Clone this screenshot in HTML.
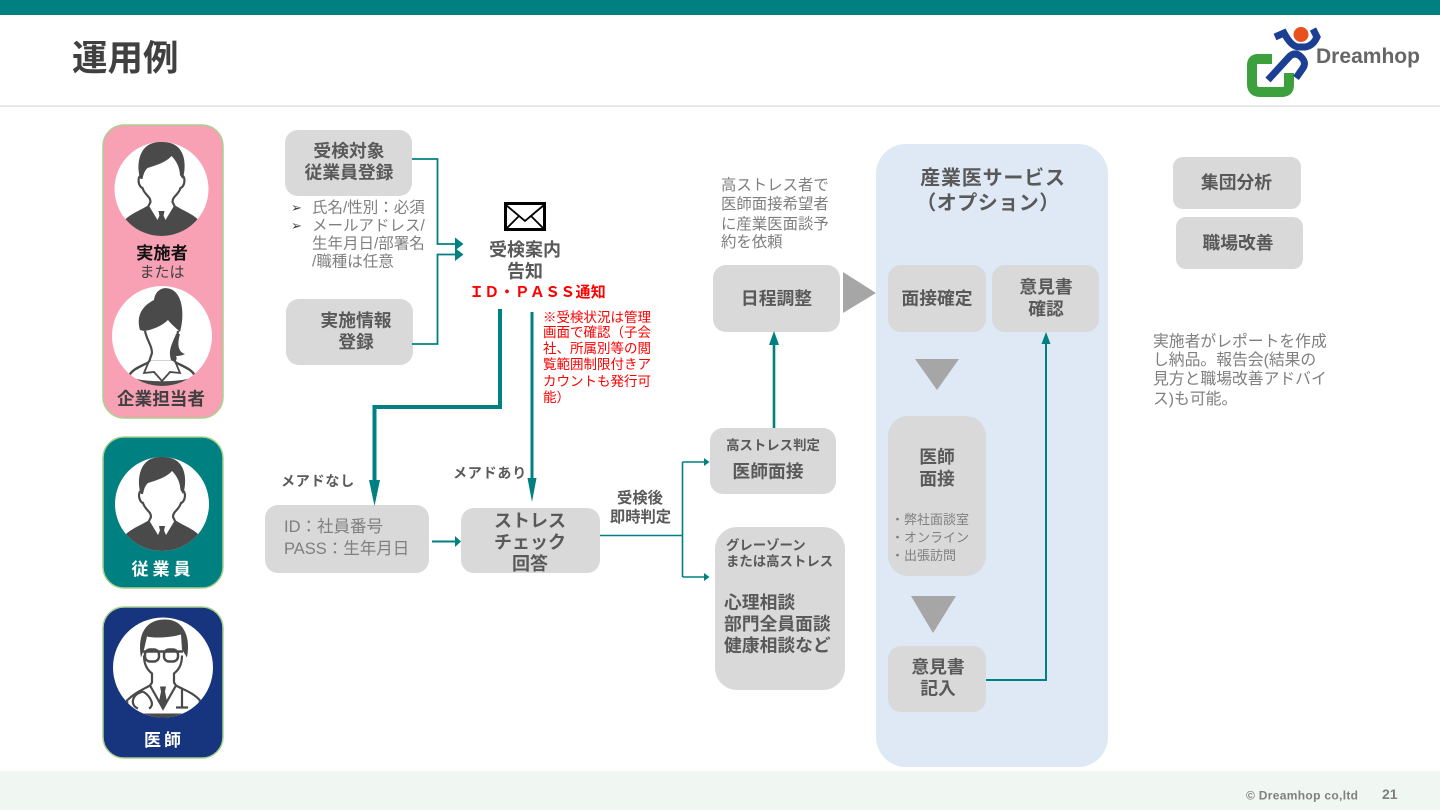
<!DOCTYPE html>
<html lang="ja">
<head>
<meta charset="utf-8">
<title>運用例</title>
<style>
html,body{margin:0;padding:0;background:#fff;width:1440px;height:810px;overflow:hidden}
svg{display:block}
text{font-family:"Liberation Sans","Noto Sans CJK JP",sans-serif}
.b{font-weight:700;fill:#595959;font-size:17.8px;text-anchor:middle}
.r{font-weight:400;fill:#7f7f7f;font-size:15.5px}
.box{fill:#d9d9d9}
.t{stroke:#008080;fill:none}
.a{fill:#008080}
.g{fill:#a6a6a6}
</style>
</head>
<body>
<svg width="1440" height="810" viewBox="0 0 1440 810" xmlns="http://www.w3.org/2000/svg">
<defs>
<clipPath id="c47"><circle cx="0" cy="0" r="47"/></clipPath>
<clipPath id="c50"><circle cx="0" cy="0" r="50"/></clipPath>
<g id="man">
<circle r="47" fill="#fff"/>
<g clip-path="url(#c47)">
<path d="M-37,31 C-30,24 -20,21 -13,16 L13,16 C20,21 30,24 37,31 L44,60 L-44,60 Z" fill="#4a4a4a"/>
<path d="M-13,16 L-4,31 L0,22 L4,31 L13,16 L11,12 L-11,12 Z" fill="#fff"/>
<path d="M-3,22 L3,22 L2,27 L4,38 L0,47 L-4,38 L-2,27 Z" fill="#4a4a4a"/>
</g>
<path d="M-20,-14 C-25,-12 -23,-2 -19,-1 C-17,6 -11,7 -11,13 L-13,17 M20,-14 C25,-12 23,-2 19,-1 C17,6 11,7 11,13 L13,17" fill="none" stroke="#4a4a4a" stroke-width="2.200"/>
<path d="M-21,-10 C-24,-18 -24,-30 -19,-38 C-14,-46 -6,-47 0,-47 C8,-47 16,-45 20,-37 C24,-30 24,-18 21,-10 L18.500,-14 C18,-22 15,-28 10,-33 C4,-26 -8,-23 -14,-21 C-17,-18 -18,-15 -19,-10 Z" fill="#4a4a4a"/>
</g>
</defs>

<rect width="1440" height="810" fill="#fff"/>
<rect width="1440" height="15" fill="#008080"/>
<rect y="105.500" width="1440" height="1.200" fill="#d9d9d9"/>
<rect y="771" width="1440" height="39" fill="#f0f6f1"/>
<text x="72" y="70" font-size="35.500" font-weight="700" fill="#404040">運用例</text>

<!-- logo -->
<path d="M1272,59 H1258 Q1252,59 1252,65 V84 Q1252,92 1260,92 H1282 Q1289,92 1289,85 V73" fill="none" stroke="#3ca03c" stroke-width="10"/>
<circle cx="1301" cy="34.500" r="7.500" fill="#e8501e"/>
<path d="M1275,37 L1284,33 Q1291,46 1298,47 L1305,47 Q1313,46 1317,37 L1313,29" fill="none" stroke="#1d3f93" stroke-width="7"/>
<path d="M1268,80 L1290,56 Q1295,52 1300,56 Q1307,62 1303,68 L1296,78" fill="none" stroke="#1d3f93" stroke-width="7"/>
<text x="1316" y="63" font-size="21" font-weight="700" fill="#666" textLength="104" lengthAdjust="spacingAndGlyphs">Dreamhop</text>

<!-- role cards -->
<rect x="103" y="125" width="120" height="293" rx="21" fill="#f8a0b4" stroke="#a9d18e" stroke-width="1.500"/>
<rect x="103" y="437" width="120" height="151" rx="21" fill="#008080" stroke="#a9d18e" stroke-width="1.500"/>
<rect x="103" y="607" width="120" height="151" rx="21" fill="#17347f" stroke="#a9d18e" stroke-width="1.500"/>

<use href="#man" transform="translate(161.500,189)"/>
<text x="162" y="259" font-size="17.300" font-weight="700" fill="#111" text-anchor="middle">実施者</text>
<text x="162" y="277" font-size="15" fill="#404040" text-anchor="middle">または</text>

<!-- woman -->
<circle cx="162" cy="336" r="50" fill="#fff"/>
<g transform="translate(162,336)">
<g clip-path="url(#c50)">
<path d="M-33,40 C-30,33 -20,30 -13,26 L13,26 C20,30 30,33 33,40" fill="none" stroke="#4a4a4a" stroke-width="2.400"/>
<path d="M-13,25 L-18,37 L-8,36 L0,45 L8,36 L18,37 L13,25" fill="#fff" stroke="#4a4a4a" stroke-width="1.800"/>
<path d="M-33,40 L-36,52 L36,52 L33,40 C24,47 -24,47 -33,40 Z" fill="#4a4a4a"/>
</g>
<path d="M-17,-5 C-15,5 -10,9 -10,17 L-13,26 M16,-5 C15,5 10,9 10,17 L13,26" fill="none" stroke="#4a4a4a" stroke-width="2.200"/>
<path d="M-22,-6 C-26,-20 -20,-30 -8,-36 C-6,-50 8,-51 15,-42 C21,-34 22,-18 18,-4 C14,-8 9,-12 6,-16 C0,-10 -10,-6 -18,-5 Z" fill="#4a4a4a"/>
<path d="M14,-2 C10,8 6,14 9,24 C13,27 16,24 14,20 C18,20 21,19 23,18 C16,16 15,8 18,-2 Z" fill="#4a4a4a"/>
</g>
<text x="161" y="405" font-size="17.600" font-weight="700" fill="#404040" text-anchor="middle">企業担当者</text>

<use href="#man" transform="translate(162,504)"/>
<text x="163" y="575" font-size="17" font-weight="700" fill="#fff" text-anchor="middle" letter-spacing="4">従業員</text>

<!-- doctor -->
<circle cx="163" cy="667.500" r="50" fill="#fff"/>
<g transform="translate(163,667.500)">
<g clip-path="url(#c50)">
<path d="M-36,33 C-28,25 -20,22 -13,18 L0,41 L13,18 C20,22 30,25 37,33 L34,50 L-34,50 Z" fill="#fff" stroke="#4a4a4a" stroke-width="2.200"/>
<path d="M-3,19 L3,19 L2,24 L4,34 L0,43 L-4,34 L-2,24 Z" fill="#4a4a4a"/>
<path d="M-20,24 C-32,27 -33,38 -25,41 M-20,24 C-12,29 -8,38 -14,41 M19,20 L19,40 M13,40 L25,40" fill="none" stroke="#4a4a4a" stroke-width="2.200"/>
<rect x="-40" y="46" width="80" height="6" fill="#4a4a4a"/>
</g>
<path d="M-19,-12 C-19,-3 -16,2 -11,6 L-11,15 L-13,18 M19,-12 C19,-3 16,2 11,6 L11,15 L13,18" fill="none" stroke="#4a4a4a" stroke-width="2.200"/>
<path d="M-22,-10 C-26,-32 -18,-48 2,-48 C20,-48 28,-32 24,-10 L19,-18 L18,-33 C8,-30 -8,-29 -16,-31 L-19,-18 Z" fill="#4a4a4a"/>
<rect x="-18" y="-18" width="14" height="12" rx="5" fill="#fff" stroke="#4a4a4a" stroke-width="2.400"/>
<rect x="1" y="-18" width="14" height="12" rx="5" fill="#fff" stroke="#4a4a4a" stroke-width="2.400"/>
<path d="M-22,-16 L20,-16" stroke="#4a4a4a" stroke-width="2.400"/>
</g>
<text x="164" y="746" font-size="17" font-weight="700" fill="#fff" text-anchor="middle" letter-spacing="3">医師</text>

<!-- service panel -->
<rect x="876" y="144" width="232" height="623" rx="30" fill="#dee9f5"/>

<!-- boxes -->
<rect class="box" x="285" y="130" width="127" height="66" rx="13"/>
<rect class="box" x="286" y="299" width="127" height="66" rx="13"/>
<rect class="box" x="265" y="505" width="164" height="68" rx="13"/>
<rect class="box" x="461" y="508" width="139" height="65" rx="13"/>
<rect class="box" x="710" y="428" width="126" height="66" rx="13"/>
<rect class="box" x="715" y="527" width="130" height="163" rx="22"/>
<rect class="box" x="713" y="265" width="127" height="67" rx="13"/>
<rect class="box" x="888" y="265" width="98" height="67" rx="13"/>
<rect class="box" x="992" y="265" width="107" height="67" rx="13"/>
<rect class="box" x="888" y="416" width="98" height="160" rx="20"/>
<rect class="box" x="888" y="646" width="98" height="66" rx="13"/>
<rect class="box" x="1173" y="157" width="128" height="52" rx="10"/>
<rect class="box" x="1176" y="217" width="127" height="52" rx="10"/>

<!-- connectors -->
<path class="t" stroke-width="1.800" d="M412,159 H437.500 V244 H456"/>
<path class="a" d="M455,237.500 L463.500,244 L455,250.500 Z"/>
<path class="t" stroke-width="1.800" d="M412,344 H437.500 V254.500 H456"/>
<path class="a" d="M455,248 L463.500,254.500 L455,261 Z"/>
<path class="t" stroke-width="4" d="M500,309 V407 H374.500 V482"/>
<path class="a" d="M369,480 L380,480 L374.500,506 Z"/>
<path class="t" stroke-width="3" d="M532,312 V480"/>
<path class="a" d="M527.500,478 L536.500,478 L532,502 Z"/>
<path class="t" stroke-width="2" d="M432,541.500 H456"/>
<path class="a" d="M455,536 L461,541.500 L455,547 Z"/>
<path class="t" stroke-width="1.600" d="M600,535.500 H682.500 M682.500,462 V577 M682.500,462 H704 M682.500,577 H704"/>
<path class="a" d="M704,458 L709.500,462 L704,466 Z M704,573 L709.500,577 L704,581 Z"/>
<path class="t" stroke-width="2.600" d="M774,428 V343"/>
<path class="a" d="M769,345 L779,345 L774,331 Z"/>
<path class="t" stroke-width="2" d="M986,680 H1046 V342"/>
<path class="a" d="M1041.500,344 L1050.500,344 L1046,332 Z"/>

<!-- gray triangles -->
<path class="g" d="M843,272 L876,293 L843,313 Z"/>
<path class="g" d="M915,359 L959,359 L937,390 Z"/>
<path class="g" d="M911,596 L956,596 L933,633 Z"/>

<!-- envelope -->
<rect x="505.500" y="203.500" width="39" height="26" fill="#fff" stroke="#000" stroke-width="3"/>
<path d="M506,205 L525,221 L544,205 M506,229 L519,216 M544,229 L531,216" fill="none" stroke="#000" stroke-width="1.800"/>

<!-- labels -->
<text class="b" x="349" y="157">受検対象</text>
<text class="b" x="349" y="178.500">従業員登録</text>
<text class="b" x="356" y="326.500">実施情報</text>
<text class="b" x="356" y="348">登録</text>

<text x="291" y="212" font-size="13" fill="#404040">➢</text>
<text x="291" y="230" font-size="13" fill="#404040">➢</text>
<text class="r" x="312" y="212.500">氏名/性別：必須</text>
<text class="r" x="312" y="230.500">メールアドレス/</text>
<text class="r" x="312" y="248.500">生年月日/部署名</text>
<text class="r" x="312" y="266.500">/職種は任意</text>

<text class="b" x="525" y="256" style="font-size:18px">受検案内</text>
<text class="b" x="525" y="277.500" style="font-size:18px">告知</text>
<text x="537.500" y="297" font-size="15" font-weight="700" fill="#ff0000" text-anchor="middle" letter-spacing="0.200">ＩＤ・ＰＡＳＳ通知</text>

<g font-size="13.500" fill="#ff0000">
<text x="543" y="322">※受検状況は管理</text>
<text x="543" y="337">画面で確認（子会</text>
<text x="543" y="353">社、所属別等の閲</text>
<text x="543" y="369">覧範囲制限付きア</text>
<text x="543" y="386">カウントも発行可</text>
<text x="543" y="402">能）</text>
</g>

<text x="318" y="486" font-size="14" font-weight="700" fill="#595959" text-anchor="middle" letter-spacing="0.800">メアドなし</text>
<text x="490" y="478" font-size="14" font-weight="700" fill="#595959" text-anchor="middle" letter-spacing="0.800">メアドあり</text>

<text x="284" y="532" font-size="16.500" fill="#7f7f7f">ID：社員番号</text>
<text x="284" y="554" font-size="16.500" fill="#7f7f7f">PASS：生年月日</text>

<text class="b" x="530" y="527" style="font-size:18px">ストレス</text>
<text class="b" x="530" y="548.500" style="font-size:18px">チェック</text>
<text class="b" x="530" y="570" style="font-size:18px">回答</text>

<text class="b" x="640" y="503" style="font-size:15.300px">受検後</text>
<text class="b" x="640.500" y="522" style="font-size:15.300px">即時判定</text>

<text class="b" x="773" y="450" style="font-size:13.400px">高ストレス判定</text>
<text class="b" x="768" y="477.500">医師面接</text>

<g font-size="13.400" font-weight="700" fill="#595959">
<text x="726" y="550">グレーゾーン</text>
<text x="726" y="566">または高ストレス</text>
</g>
<g font-size="17.800" font-weight="700" fill="#595959">
<text x="724" y="608.500">心理相談</text>
<text x="724" y="630">部門全員面談</text>
<text x="724" y="651.500">健康相談など</text>
</g>

<g font-size="15.400" fill="#7f7f7f">
<text x="721" y="190">高ストレス者で</text>
<text x="721" y="209">医師面接希望者</text>
<text x="721" y="229">に産業医面談予</text>
<text x="721" y="247">約を依頼</text>
</g>
<text class="b" x="776.500" y="304.500">日程調整</text>

<text class="b" x="993" y="184.500" style="font-size:20px" letter-spacing="0.800">産業医サービス</text>
<text class="b" x="988" y="209.500" style="font-size:20px" letter-spacing="0.500">（オプション）</text>

<text class="b" x="937" y="304.500">面接確定</text>
<text class="b" x="1046" y="293">意見書</text>
<text class="b" x="1046" y="315">確認</text>

<text class="b" x="937" y="463">医師</text>
<text class="b" x="937" y="485">面接</text>
<g font-size="13" fill="#7f7f7f">
<text x="891" y="524">・弊社面談室</text>
<text x="891" y="542">・オンライン</text>
<text x="891" y="560">・出張訪問</text>
</g>
<text class="b" x="938" y="673">意見書</text>
<text class="b" x="938" y="694.500">記入</text>

<text class="b" x="1236.500" y="188.500">集団分析</text>
<text class="b" x="1238" y="249">職場改善</text>

<g font-size="15.800" fill="#7f7f7f">
<text x="1153" y="346.500">実施者がレポートを作成</text>
<text x="1153" y="365">し納品。報告会(結果の</text>
<text x="1153" y="384">見方と職場改善アドバイ</text>
<text x="1153" y="404">ス)も可能。</text>
</g>

<text x="1246" y="799.500" font-size="12" font-weight="700" fill="#7f7f7f" textLength="112">© Dreamhop co,ltd</text>
<text x="1382" y="799" font-size="14" font-weight="700" fill="#7f7f7f">21</text>
</svg>
</body>
</html>
